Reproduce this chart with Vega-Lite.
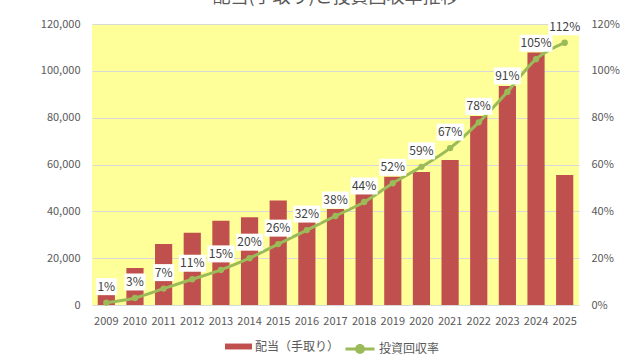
{
  "$schema": "https://vega.github.io/schema/vega-lite/v6.json",
  "autosize": {"type": "none"},
  "padding": {"left": 92, "top": 24, "right": 61, "bottom": 55},
  "width": 487,
  "height": 281,
  "background": "white",
  "title": {
    "text": "配当(手取り)と投資回収率推移",
    "font": "Noto Sans CJK JP",
    "fontSize": 18,
    "fontWeight": "normal",
    "color": "#595959",
    "offset": 11,
    "anchor": "middle"
  },
  "config": {
    "view": {"stroke": null, "fill": "#FFFF99"},
    "font": "Noto Sans CJK JP",
    "axis": {"labelFont": "Noto Sans CJK JP", "labelColor": "#595959", "labelFontSize": 11, "domain": false, "ticks": false, "title": null},
    "legend": {"labelFont": "Noto Sans CJK JP", "labelColor": "#595959", "labelFontSize": 12, "padding": 0, "title": null}
  },
  "data": {
    "values": [
      {"year": "2009", "dividend": 4300, "rate": 0.01},
      {"year": "2010", "dividend": 15800, "rate": 0.03},
      {"year": "2011", "dividend": 26000, "rate": 0.07},
      {"year": "2012", "dividend": 30900, "rate": 0.11},
      {"year": "2013", "dividend": 36000, "rate": 0.15},
      {"year": "2014", "dividend": 37500, "rate": 0.20},
      {"year": "2015", "dividend": 44600, "rate": 0.26},
      {"year": "2016", "dividend": 36000, "rate": 0.32},
      {"year": "2017", "dividend": 41000, "rate": 0.38},
      {"year": "2018", "dividend": 47700, "rate": 0.44},
      {"year": "2019", "dividend": 54800, "rate": 0.52},
      {"year": "2020", "dividend": 56800, "rate": 0.59},
      {"year": "2021", "dividend": 61900, "rate": 0.67},
      {"year": "2022", "dividend": 80700, "rate": 0.78},
      {"year": "2023", "dividend": 93500, "rate": 0.91},
      {"year": "2024", "dividend": 107800, "rate": 1.05},
      {"year": "2025", "dividend": 55500, "rate": 1.12}
    ]
  },
  "encoding": {
    "x": {
      "field": "year",
      "type": "ordinal",
      "scale": {"paddingInner": 0.4, "paddingOuter": 0.2},
      "axis": {"labelAngle": 0, "labelPadding": 10, "grid": false}
    }
  },
  "layer": [
    {
      "mark": {"type": "bar", "color": "#C0504D"},
      "encoding": {
        "y": {
          "field": "dividend",
          "type": "quantitative",
          "scale": {"domain": [0, 120000], "nice": false},
          "axis": {"values": [0, 20000, 40000, 60000, 80000, 100000, 120000], "format": ",d", "labelPadding": 12, "grid": true, "gridColor": "#D9D9D9", "gridWidth": 1}
        },
        "fill": {
          "datum": "配当（手取り）",
          "scale": {"range": ["#C0504D"]},
          "legend": {
            "orient": "none",
            "legendX": 133,
            "legendY": 309,
            "symbolType": "M-1,-0.22H1V0.22H-1Z",
            "symbolSize": 729,
            "symbolStrokeWidth": 0,
            "labelOffset": 3
          }
        }
      }
    },
    {
      "layer": [
        {
          "mark": {"type": "line", "interpolate": "monotone", "strokeWidth": 3},
          "encoding": {
            "y": {
              "field": "rate",
              "type": "quantitative",
              "scale": {"domain": [0, 1.2], "nice": false},
              "axis": {"orient": "right", "values": [0, 0.2, 0.4, 0.6, 0.8, 1.0, 1.2], "format": ".0%", "labelPadding": 12, "grid": false}
            },
            "stroke": {
              "datum": "投資回収率",
              "scale": {"range": ["#9BBB59"]},
              "legend": {
                "orient": "none",
                "legendX": 252,
                "legendY": 309,
                "symbolType": "M-1,0H1M-0.24,0A0.24,0.24,0,1,0,0.24,0A0.24,0.24,0,1,0,-0.24,0",
                "symbolSize": 841,
                "symbolFillColor": "#9BBB59",
                "symbolStrokeWidth": 3,
                "labelOffset": 3
              }
            }
          }
        },
        {
          "mark": {"type": "point", "filled": true, "color": "#9BBB59", "size": 40, "opacity": 1},
          "encoding": {"y": {"field": "rate", "type": "quantitative"}}
        },
        {
          "transform": [{"filter": "datum.rate < 0.095"}],
          "mark": {"type": "bar", "color": "white", "width": 21, "yOffset": -24.5, "y2Offset": -7.5},
          "encoding": {
            "y": {"field": "rate", "type": "quantitative"},
            "y2": {"field": "rate"}
          }
        },
        {
          "transform": [{"filter": "datum.rate >= 0.095 && datum.rate < 0.995"}],
          "mark": {"type": "bar", "color": "white", "width": 27, "yOffset": -24.5, "y2Offset": -7.5},
          "encoding": {
            "y": {"field": "rate", "type": "quantitative"},
            "y2": {"field": "rate"}
          }
        },
        {
          "transform": [{"filter": "datum.rate >= 0.995"}],
          "mark": {"type": "bar", "color": "white", "width": 33, "yOffset": -24.5, "y2Offset": -7.5},
          "encoding": {
            "y": {"field": "rate", "type": "quantitative"},
            "y2": {"field": "rate"}
          }
        },
        {
          "mark": {"type": "text", "yOffset": -16, "baseline": "middle", "align": "center", "fontSize": 12, "color": "#404040", "font": "Noto Sans CJK JP"},
          "encoding": {
            "y": {"field": "rate", "type": "quantitative"},
            "text": {"field": "rate", "type": "quantitative", "format": ".0%"}
          }
        }
      ]
    }
  ],
  "resolve": {"scale": {"y": "independent", "fill": "independent", "stroke": "independent"}}
}
